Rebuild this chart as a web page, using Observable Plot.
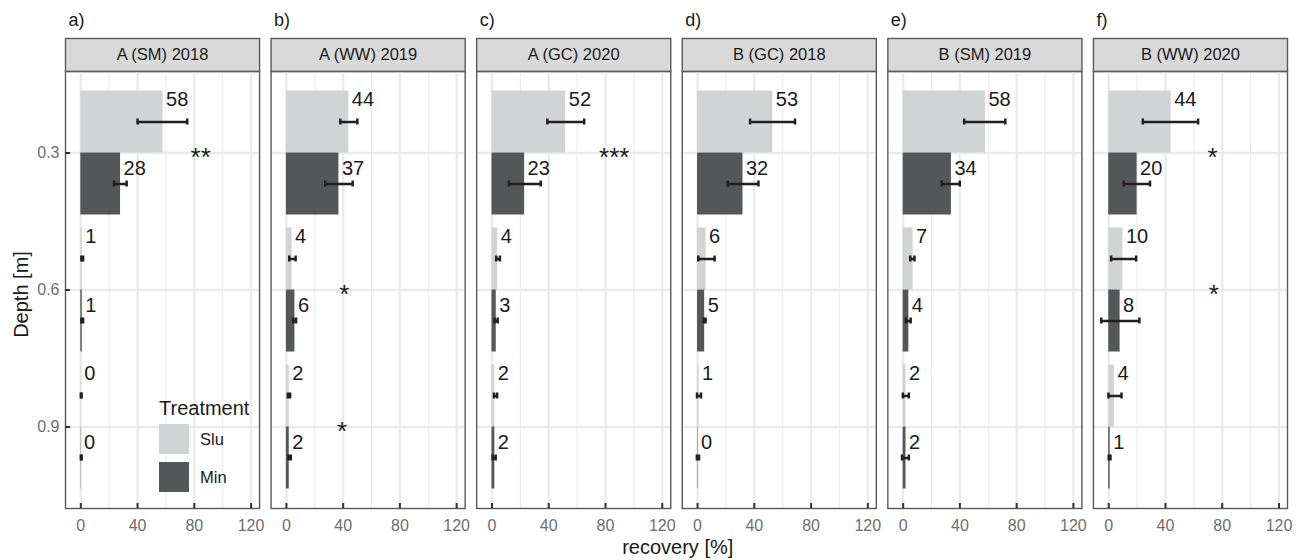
<!DOCTYPE html>
<html><head><meta charset="utf-8">
<script src="https://cdn.jsdelivr.net/npm/d3@7"></script>
<script src="https://cdn.jsdelivr.net/npm/@observablehq/plot@0.6"></script>
<style>
body{margin:0;background:#fff;}
#wrap{position:relative;width:1301px;height:560px;font-family:"Liberation Sans",Arial,sans-serif;}
#legend{position:absolute;left:159px;top:396px;}
#legend .lt{font-size:20px;color:#1a1a1a;line-height:24px;margin-bottom:4px;}
.leg-swatches{font-family:"Liberation Sans",Arial,sans-serif !important;font-size:16.5px !important;color:#1a1a1a !important;margin:0 !important;}
.leg-swatch{padding-bottom:8px !important;}
.leg-swatch svg{margin-right:11px !important;}
</style></head><body><div id="wrap"></div>
<script>
const panels = ["A (SM) 2018","A (WW) 2019","A (GC) 2020","B (GC) 2018","B (SM) 2019","B (WW) 2020"];
const letters = ["a)","b)","c)","d)","e)","f)"];
const depths = ["0.3","0.6","0.9"];
const treatments = ["Slu","Min"];
const colors = ["#d2d3d5","#555658"];
const xTicks = [0,40,80,120];
const xMinor = [20,60,100];

// mean recovery per panel, per depth (0.3, 0.6, 0.9)
const sluMean = [[58,1,0.3],[44,4,2],[52,4,2],[53,6,1],[58,7,2],[44,10,4]];
const minMean = [[28,1,0.2],[37,6,2],[23,3,2],[32,5,0.3],[34,4,2],[20,8,1]];
// error bar limits
const sluLo = [[40,0.4,0],[38,2,1],[39,3,1.4],[37,0.5,-0.4],[43,5,-0.2],[24,1.7,-0.2]];
const sluHi = [[75,1.6,0.6],[50,6.5,2.6],[65,5.6,3.6],[68.7,12,2.4],[72,8,4],[63,19.3,9]];
const minLo = [[23.4,0.4,0],[27.4,4.8,1.5],[12,1.8,0.5],[21.3,4.3,-0.5],[27.2,2,-0.8],[10.5,-5.3,0]];
const minHi = [[32.3,1.6,0.6],[46.7,6.8,3.1],[34.4,4,2.6],[42.9,5.6,1],[39.9,5.3,4],[29.1,21.6,1.2]];

// significance marks
const starPanel = ["A (SM) 2018","A (WW) 2019","A (WW) 2019","A (GC) 2020","B (WW) 2020","B (WW) 2020"];
const starDepth = ["0.3","0.6","0.9","0.3","0.3","0.6"];
const starX = [84.5,40.8,39.2,86.2,73.2,74];
const starText = ["**","*","*","***","*","*"];

const rows = [];
panels.forEach((p, i) => depths.forEach((d, j) => {
  rows.push({panel: p, depth: d, treatment: "Slu", value: sluMean[i][j], lo: sluLo[i][j], hi: sluHi[i][j]});
  rows.push({panel: p, depth: d, treatment: "Min", value: minMean[i][j], lo: minLo[i][j], hi: minHi[i][j]});
}));
const slu = rows.filter(r => r.treatment === "Slu");
const mn = rows.filter(r => r.treatment === "Min");
const stars = starText.map((s, i) => ({panel: starPanel[i], depth: starDepth[i], x: starX[i], text: s}));
const heads = panels.map((p, i) => ({panel: p, letter: letters[i]}));
const fmt = d3.format(".0f");

const H = 437; // panel height (px)
const ink = "#1a1a1a", errC = "#231f20", grid = "#ebebeb", border = "#595959";

const chart = Plot.plot({
  width: 1301, height: 560,
  marginLeft: 65, marginRight: 14, marginTop: 71, marginBottom: 52,
  facet: {marginTop: 0, marginRight: 0, marginBottom: 0, marginLeft: 0},
  style: {fontFamily: '"Liberation Sans", Arial, sans-serif', fontSize: "16px", color: "#6e6e6e", background: "#fff", overflow: "visible"},
  fx: {domain: panels, axis: null, paddingInner: 0.056, paddingOuter: 0, round: false},
  x: {domain: [-10.8, 126], ticks: xTicks, tickSize: 0, tickPadding: 11, label: null},
  y: {domain: depths, paddingInner: 0, paddingOuter: 0.095, round: false, tickSize: 0, tickPadding: 6, label: null},
  color: {domain: treatments, range: colors},
  marks: [
    Plot.frame({fill: "#d9d9d9", stroke: border, strokeWidth: 1.4, insetTop: -33, insetBottom: H}),
    Plot.text(heads, {fx: "panel", text: "panel", frameAnchor: "top", dy: -16.5, lineAnchor: "middle", textAnchor: "middle", fontSize: 16.5, fill: ink}),
    Plot.text(heads, {fx: "panel", text: "letter", frameAnchor: "top-left", dx: 3, dy: -51, lineAnchor: "middle", textAnchor: "start", fontSize: 18, fill: ink}),
    Plot.ruleX(xMinor, {stroke: grid, strokeWidth: 1.1}),
    Plot.ruleX(xTicks, {stroke: grid, strokeWidth: 2.4}),
    Plot.ruleY(depths, {y: d => d, stroke: grid, strokeWidth: 2.4}),
    Plot.barX(slu, {fx: "panel", y: "depth", x1: 0, x2: "value", fill: "treatment", insetTop: 6.5, insetBottom: 68.5}),
    Plot.barX(mn, {fx: "panel", y: "depth", x1: 0, x2: "value", fill: "treatment", insetTop: 68.5, insetBottom: 6.5}),
    Plot.ruleY(slu, {fx: "panel", y: "depth", x1: "lo", x2: "hi", dy: -31, stroke: errC, strokeWidth: 2.5}),
    Plot.ruleY(mn, {fx: "panel", y: "depth", x1: "lo", x2: "hi", dy: 31, stroke: errC, strokeWidth: 2.5}),
    Plot.tickX(slu, {fx: "panel", y: "depth", x: "lo", insetTop: 34.5, insetBottom: 96.5, stroke: errC, strokeWidth: 2.5}),
    Plot.tickX(slu, {fx: "panel", y: "depth", x: "hi", insetTop: 34.5, insetBottom: 96.5, stroke: errC, strokeWidth: 2.5}),
    Plot.tickX(mn, {fx: "panel", y: "depth", x: "lo", insetTop: 96.5, insetBottom: 34.5, stroke: errC, strokeWidth: 2.5}),
    Plot.tickX(mn, {fx: "panel", y: "depth", x: "hi", insetTop: 96.5, insetBottom: 34.5, stroke: errC, strokeWidth: 2.5}),
    Plot.text(slu, {fx: "panel", y: "depth", x: "value", text: d => fmt(d.value), dx: 3, dy: -53, textAnchor: "start", lineAnchor: "middle", fontSize: 20, fill: ink}),
    Plot.text(mn, {fx: "panel", y: "depth", x: "value", text: d => fmt(d.value), dx: 3, dy: 16, textAnchor: "start", lineAnchor: "middle", fontSize: 20, fill: ink}),
    Plot.text(stars, {fx: "panel", y: "depth", x: "x", text: "text", dy: 5, textAnchor: "middle", lineAnchor: "middle", fontSize: 26, fill: ink}),
    Plot.frame({stroke: border, strokeWidth: 1.4}),
    Plot.ruleX(xTicks, {stroke: "#333", strokeWidth: 2, insetTop: H - 5}),
    Plot.ruleY(depths, {y: d => d, fx: () => panels[0], stroke: "#333", strokeWidth: 2, insetRight: 189}),
    Plot.text(["Depth [m]"], {fx: () => panels[0], text: d => d, frameAnchor: "left", dx: -44, dy: 4.5, rotate: -90, textAnchor: "middle", lineAnchor: "middle", fontSize: 20, fill: ink}),
    Plot.text(["recovery [%]"], {fx: () => panels[2], text: d => d, frameAnchor: "bottom-right", dx: 7, dy: 39, textAnchor: "middle", lineAnchor: "middle", fontSize: 20, fill: ink})
  ]
});
const wrap = document.getElementById("wrap");
wrap.appendChild(chart);
const legDiv = document.createElement("div");
legDiv.id = "legend";
const lt = document.createElement("div");
lt.className = "lt";
lt.textContent = "Treatment";
legDiv.appendChild(lt);
legDiv.appendChild(chart.legend("color", {legend: "swatches", columns: 1, swatchSize: 30, className: "leg"}));
wrap.appendChild(legDiv);
</script></body></html>
